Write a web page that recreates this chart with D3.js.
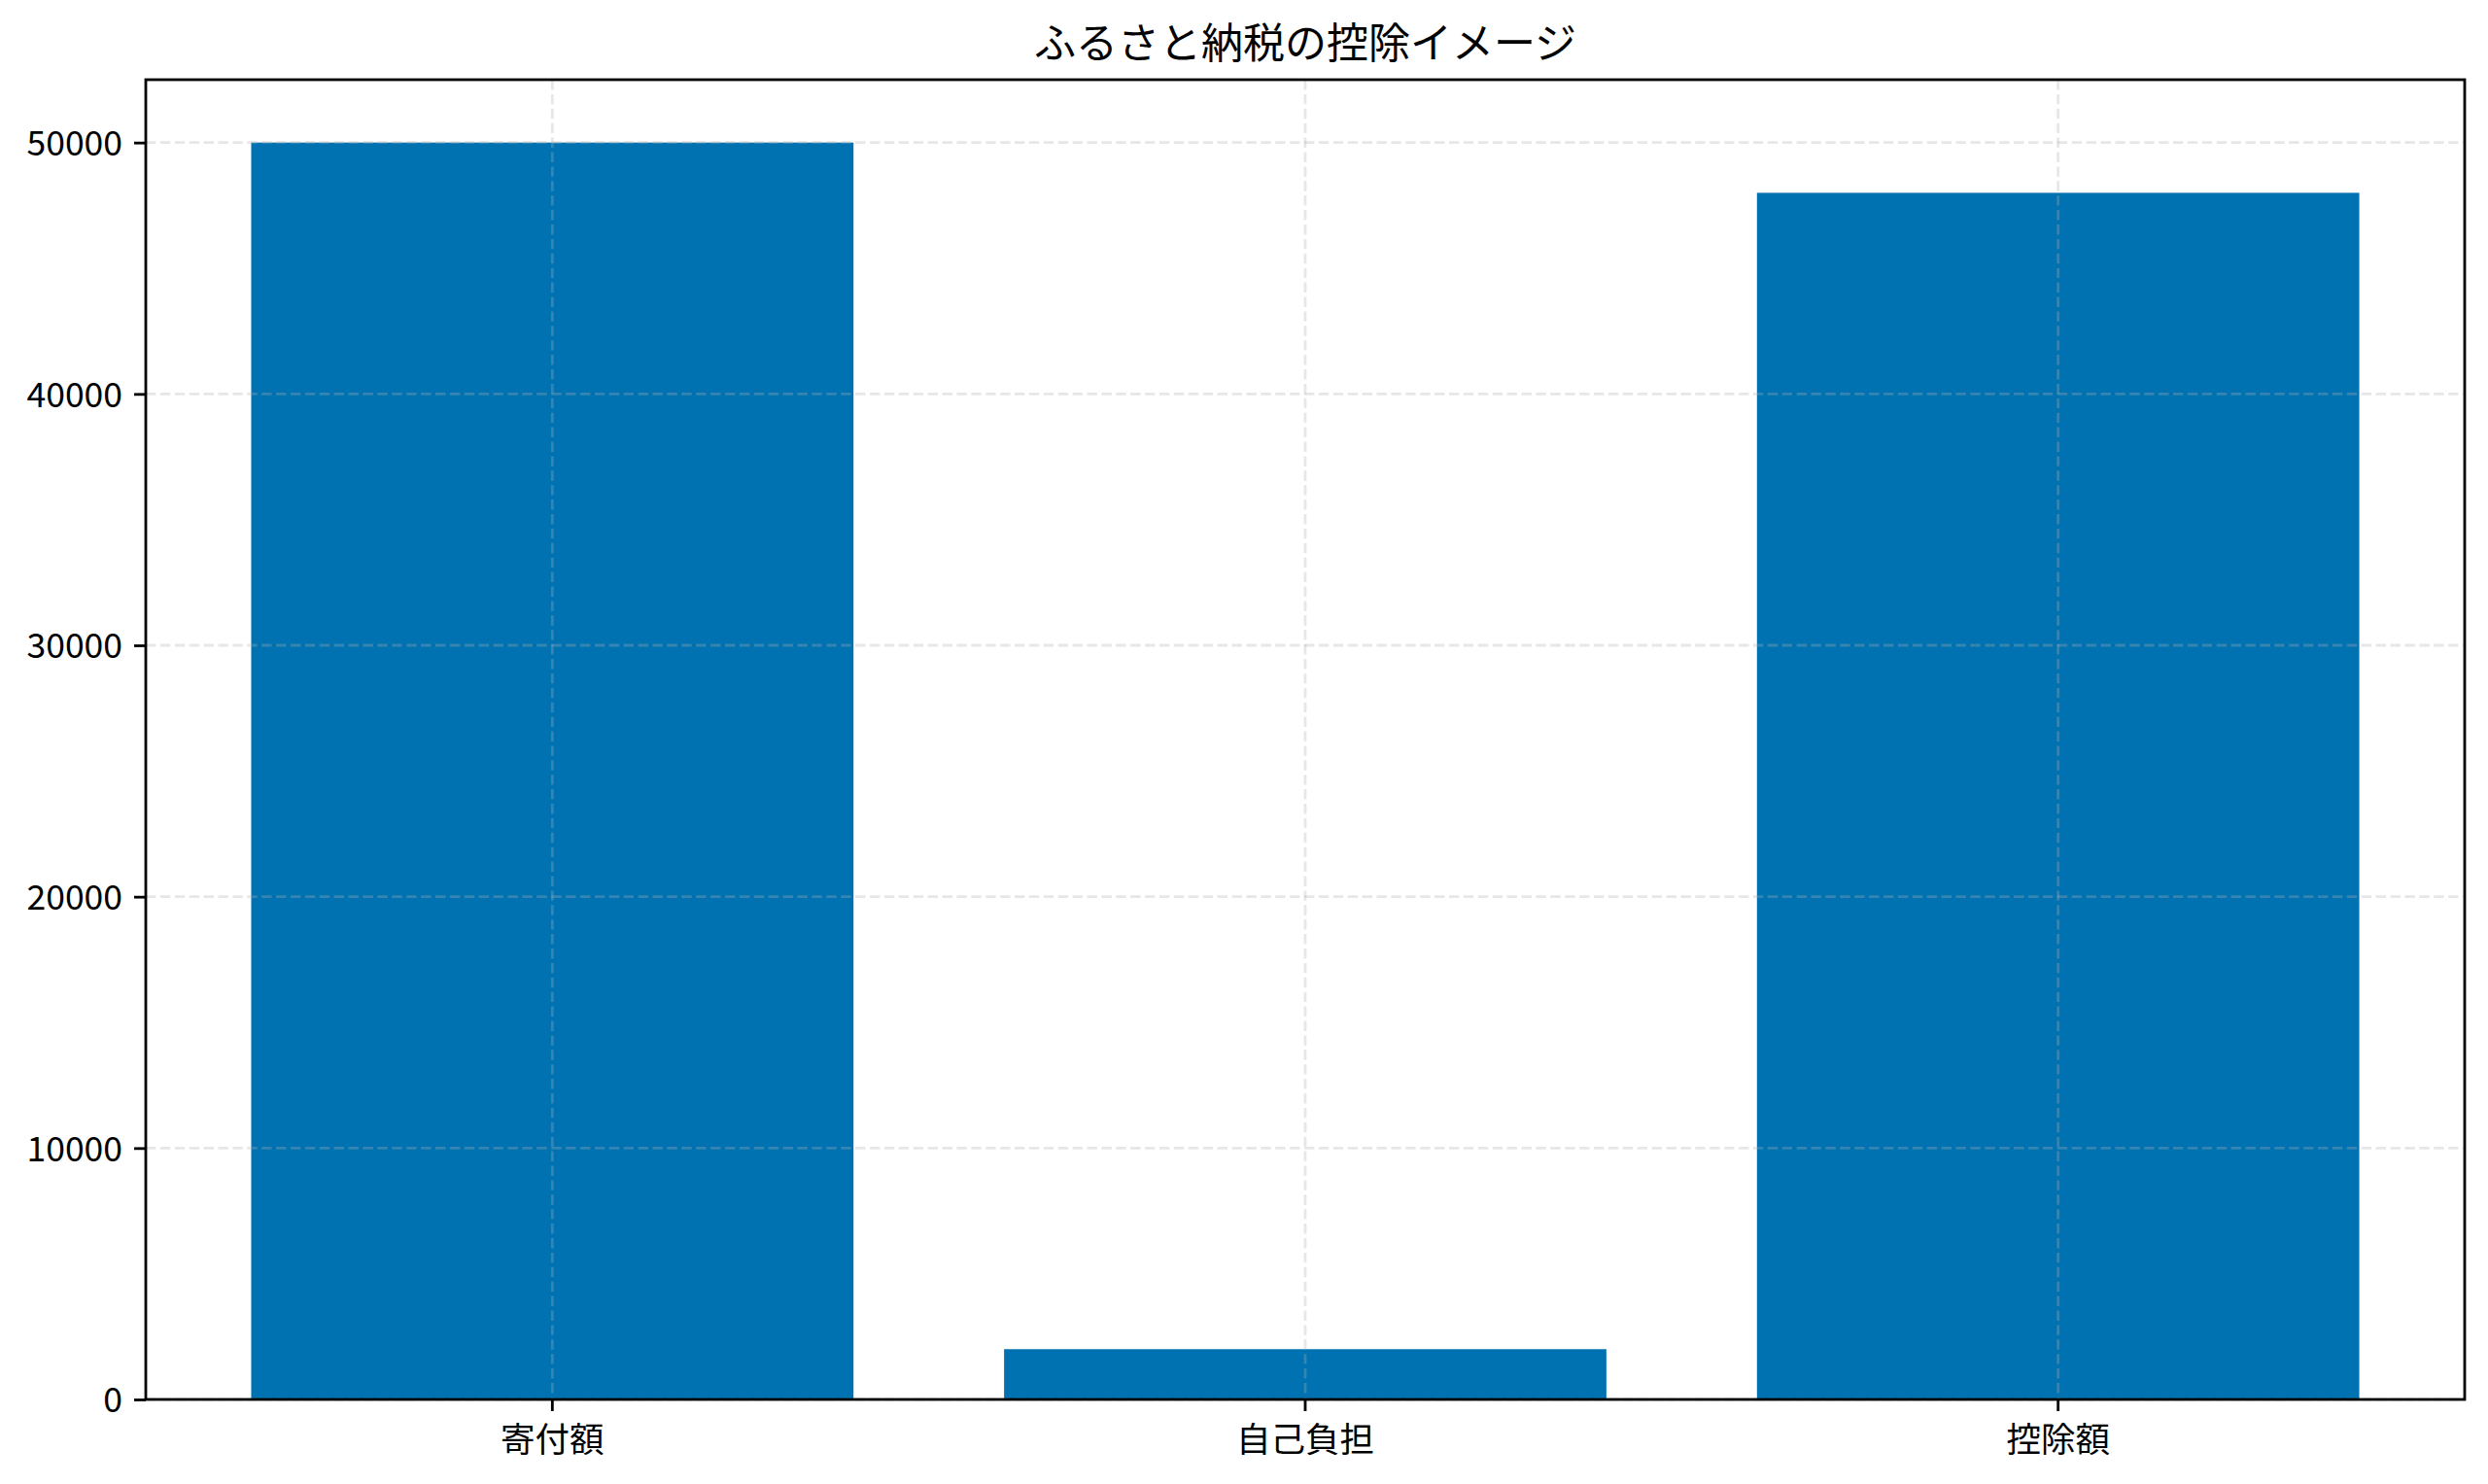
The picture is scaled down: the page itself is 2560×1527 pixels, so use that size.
<!DOCTYPE html>
<html>
  <head>
    <meta charset="utf-8" />
    <title>ふるさと納税の控除イメージ</title>
    <script src="https://d3js.org/d3.v7.min.js"></script>
    <style>
      body { margin: 0; background: #fff; }
      text { font-family: "Noto Sans CJK JP", "Noto Sans", sans-serif; fill: #000; }
    </style>
  </head>
  <body>
    <svg id="chart" width="2560" height="1527"></svg>
    <script>
      // data
      var categories = ["寄付額", "自己負担", "控除額"];
      var amounts = [50000, 2000, 48000];
      var yTicks = [0, 10000, 20000, 30000, 40000, 50000];
      var chartTitle = "ふるさと納税の控除イメージ";

      var W = 2560, H = 1527;
      var margin = {top: 82, right: 24, bottom: 87, left: 150};
      var svg = d3.select("#chart");

      var x = d3.scaleBand()
          .domain(categories)
          .range([margin.left, W - margin.right])
          .paddingInner(0.2)
          .paddingOuter(0.14);

      var y = d3.scaleLinear()
          .domain([0, d3.max(amounts) * 1.05])
          .range([H - margin.bottom, margin.top]);

      var rows = categories.map(function(c, i){ return {name: c, value: amounts[i]}; });

      // white background
      svg.append("rect").attr("width", W).attr("height", H).attr("fill", "#fff");

      // bars
      svg.append("g").selectAll("rect")
          .data(rows)
          .enter().append("rect")
          .attr("x", function(d){ return x(d.name); })
          .attr("width", x.bandwidth())
          .attr("y", function(d){ return y(d.value); })
          .attr("height", function(d){ return y(0) - y(d.value); })
          .attr("fill", "#0072B2");

      // grid, drawn over the bars like the original
      var grid = svg.append("g")
          .attr("stroke", "#b0b0b0")
          .attr("stroke-opacity", 0.3)
          .attr("stroke-width", 2.8)
          .attr("stroke-dasharray", "10.4,4.5");
      grid.selectAll(".hg").data(yTicks).enter().append("line")
          .attr("x1", margin.left).attr("x2", W - margin.right)
          .attr("y1", function(d){ return y(d); })
          .attr("y2", function(d){ return y(d); });
      grid.selectAll(".vg").data(categories).enter().append("line")
          .attr("x1", function(d){ return x(d) + x.bandwidth() / 2; })
          .attr("x2", function(d){ return x(d) + x.bandwidth() / 2; })
          .attr("y1", margin.top).attr("y2", H - margin.bottom);

      // axes
      var xAxis = d3.axisBottom(x).tickSize(12).tickPadding(12).tickSizeOuter(0);
      var yAxis = d3.axisLeft(y).tickValues(yTicks).tickFormat(d3.format("d"))
          .tickSize(12).tickPadding(12).tickSizeOuter(0);

      var gx = svg.append("g")
          .attr("transform", "translate(0," + (H - margin.bottom) + ")")
          .call(xAxis);
      var gy = svg.append("g")
          .attr("transform", "translate(" + margin.left + ",0)")
          .call(yAxis);

      [gx, gy].forEach(function(g){
        g.select(".domain").remove();
        g.selectAll(".tick line").attr("stroke", "#000").attr("stroke-width", 2.8);
        g.selectAll(".tick text").attr("font-size", 35.5)
          .attr("font-family", "'Noto Sans CJK JP', sans-serif");
      });
      gx.selectAll(".tick text").attr("dy", null).attr("y", 54);
      gy.selectAll(".tick text").attr("dy", "0.36em");

      // frame
      svg.append("rect")
          .attr("x", margin.left).attr("y", margin.top)
          .attr("width", W - margin.left - margin.right)
          .attr("height", H - margin.top - margin.bottom)
          .attr("fill", "none").attr("stroke", "#000").attr("stroke-width", 2.8);

      // title
      svg.append("text")
          .attr("x", (margin.left + W - margin.right) / 2)
          .attr("y", 60)
          .attr("text-anchor", "middle")
          .attr("font-size", 43)
          .text(chartTitle);
    </script>
  </body>
</html>
